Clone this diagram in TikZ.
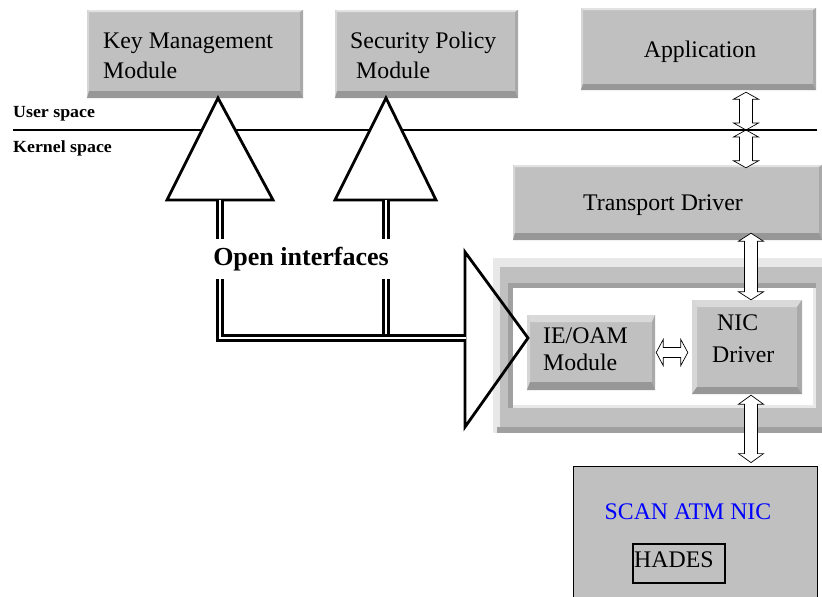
\documentclass[tikz,border=0pt]{standalone}
\usepackage{fontspec}
\usepackage{graphicx}
\setmainfont{Liberation Serif}
\usetikzlibrary{calc}
\definecolor{bgray}{HTML}{C0C0C0}
\definecolor{btop}{HTML}{E2E2E2}
\definecolor{bleft}{HTML}{D6D6D6}
\definecolor{bright}{HTML}{A9A9A9}
\definecolor{bbot}{HTML}{979797}
\definecolor{flight}{HTML}{E8E8E8}
\definecolor{fdark}{HTML}{A0A0A0}
\definecolor{scanblue}{HTML}{0000FF}
\def\dahw{12.5pt}
\def\dasw{6.5pt}
\def\dhhw{13pt}
\def\dhsw{5pt}
\def\dhhl{7pt}
\newcommand\bvbox[9]{%
  \node[bvnode, minimum width={(#4-#2)*1pt}, minimum height={(#5-#3)*1pt}] (#1) at ({(#2+#4)/2},{(#3+#5)/2}) {};
  \fill[btop] (#2,#3) -- (#4,#3) -- ({#4-#8},{#3+#6}) -- ({#2+#7},{#3+#6}) -- cycle;
  \fill[bleft] (#2,#3) -- ({#2+#7},{#3+#6}) -- ({#2+#7},{#5-#9}) -- (#2,#5) -- cycle;
  \fill[bright] (#4,#3) -- (#4,#5) -- ({#4-#8},{#5-#9}) -- ({#4-#8},{#3+#6}) -- cycle;
  \fill[bbot] (#2,#5) -- (#4,#5) -- ({#4-#8},{#5-#9}) -- ({#2+#7},{#5-#9}) -- cycle;
}
\tikzset{
  bvnode/.style={rectangle, fill=bgray, draw=none, inner sep=0pt},
  txt/.style={font=\fontsize{23.8}{28}\selectfont, inner sep=0pt},
  lbl/.style={font=\bfseries\fontsize{17}{20}\selectfont, inner sep=0pt},
  tri/.style={draw=black, line width=2.8pt, line join=miter},
  shaft/.style={draw=black, line width=2.8pt, double=white, double distance=1.8pt},
  dblarrow/.style={draw=black, fill=white, line width=0.7pt, line join=miter},
  vdbl/.style 2 args={dblarrow, to path={let \p1=(\tikztostart), \p2=(\tikztotarget) in
    (#1pt,\y1) -- (#1pt+\dahw,\y1-#2pt) -- (#1pt+\dasw,\y1-#2pt) -- (#1pt+\dasw,\y2+#2pt)
    -- (#1pt+\dahw,\y2+#2pt) -- (#1pt,\y2) -- (#1pt-\dahw,\y2+#2pt) -- (#1pt-\dasw,\y2+#2pt)
    -- (#1pt-\dasw,\y1-#2pt) -- (#1pt-\dahw,\y1-#2pt) -- cycle}},
  hdbl/.style={dblarrow, to path={let \p1=(\tikztostart), \p2=(\tikztotarget) in
    (\x1,\y1) -- (\x1+\dhhl,\y1+\dhhw) -- (\x1+\dhhl,\y1+\dhsw) -- (\x2-\dhhl,\y1+\dhsw)
    -- (\x2-\dhhl,\y1+\dhhw) -- (\x2,\y1) -- (\x2-\dhhl,\y1-\dhhw) -- (\x2-\dhhl,\y1-\dhsw)
    -- (\x1+\dhhl,\y1-\dhsw) -- (\x1+\dhhl,\y1-\dhhw) -- cycle}},
}
\begin{document}
\begin{tikzpicture}[x=1pt,y=-1pt]
\useasboundingbox (0,0) rectangle (822,597);
\fill[white] (0,0) rectangle (822,597);

% top modules
\bvbox{km}{87}{10}{303}{98}{2}{2}{3}{7}
\bvbox{sp}{335}{10}{518}{98}{2}{2}{3}{7}
\bvbox{app}{581}{8}{816}{90}{2}{2}{3}{6}
\bvbox{td}{513}{165}{822}{240}{2}{2}{3}{7}

% kernel frame
\node[rectangle, fill=flight, inner sep=0pt, minimum width=329pt, minimum height=175pt] (frame) at (657.5,345.5) {};
\fill[bgray] (500,267) rectangle (822,427);
\fill[fdark] (497,427) rectangle (822,433);
\fill[fdark] (508,283) rectangle (816,408);
\fill[flight] (513,288) rectangle (816,408);
\fill[white] (513,288) rectangle (813,405);

\definecolor{btop}{HTML}{D9D9D9}
\bvbox{ie}{527}{315}{655}{390}{7}{3}{3}{8}
\bvbox{nic}{692}{300}{802}{394}{7}{5}{5}{7}

% SCAN ATM NIC card
\node[rectangle, draw=black, line width=0.8pt, fill=bgray, inner sep=0pt, minimum width=244pt, minimum height=140pt] (scan) at (695,536) {};
\node[rectangle, draw=black, line width=1.3pt, inner sep=0pt, minimum width=92pt, minimum height=39pt] (hades) at (679,563.5) {};

% texts
\node[txt, anchor=base west] (kmt1) at (103,48) {Key Management};
\node[txt, anchor=base west] (kmt2) at (103,78) {Module};
\node[txt, anchor=base west] (spt1) at (350,48) {Security Policy};
\node[txt, anchor=base west] (spt2) at (356,78) {Module};
\node[txt, anchor=base] (appt) at (700,57) {Application};
\node[txt, anchor=base] (tdt) at (663,210) {Transport Driver};
\node[txt, anchor=base west] (iet1) at (543,343) {IE/OAM};
\node[txt, anchor=base west] (iet2) at (543,370) {Module};
\node[txt, anchor=base west] (nict1) at (717,330) {NIC};
\node[txt, anchor=base west] (nict2) at (712,362) {Driver};
\node[txt, anchor=base, text=scanblue] (scant) at (688,519) {SCAN ATM NIC};
\node[txt, anchor=base west] (hadest) at (634,567) {HADES};

% hollow double arrows
\coordinate (uk) at (746,130);
\draw[vdbl={746}{7}] ([yshift=-2pt]app.south) to (uk);
\draw[vdbl={746}{7}] (uk) to ([yshift=-3pt]td.north);
\draw[vdbl={751}{8}] ([yshift=7pt]td.south) to (nic.north);
\draw[vdbl={751}{9}] ([yshift=-1pt]nic.south) to ([yshift=3pt]scan.north);
\draw[hdbl] ([xshift=1pt]ie.east) to ([xshift=-4pt]nic.west);

% user / kernel separation
\coordinate (sepL) at (13,130);
\coordinate (sepR) at (817,130);
\draw[line width=2.5pt] (sepL) -- (sepR);
\node[lbl, anchor=base west] (ust) at (13,117) {\scalebox{1.05}[1]{User space}};
\node[lbl, anchor=base west] (kst) at (13,152) {\scalebox{1.05}[1]{Kernel space}};

% open interface arrows
\draw[tri, fill=white] (218,98) -- (273,200) -- (167,200) -- cycle;
\draw[tri, fill=white] (386,98) -- (436,200) -- (335,200) -- cycle;
\draw[tri] (465,252) -- (528,338) -- (465,427) -- cycle;
\draw[shaft] (386,199.5) -- (386,338);
\draw[shaft] (220,199.5) -- (220,338) -- (466.3,338);
\node[anchor=base, font=\bfseries\fontsize{26}{30}\selectfont, fill=white, inner xsep=2pt, inner ysep=8pt] (oi) at (301,265) {Open interfaces};
\end{tikzpicture}
\end{document}
